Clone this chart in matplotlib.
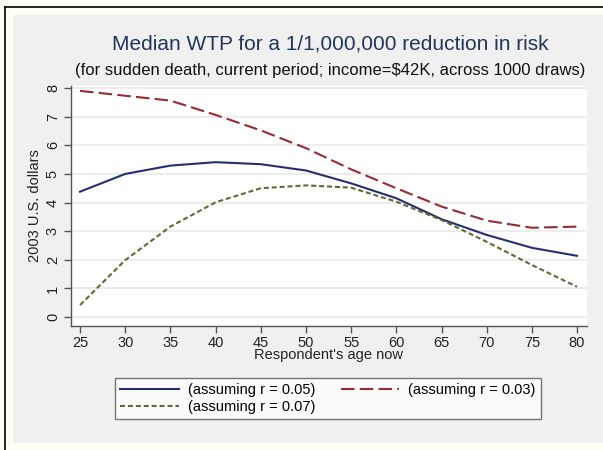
import matplotlib
matplotlib.use("Agg")
import matplotlib.pyplot as plt
from matplotlib.patches import Rectangle
from matplotlib.lines import Line2D

ages = [25, 30, 35, 40, 45, 50, 55, 60, 65, 70, 75, 80]
wtp_r05 = [4.38, 5.00, 5.29, 5.41, 5.34, 5.12, 4.67, 4.15, 3.42, 2.87, 2.42, 2.14]
wtp_r03 = [7.90, 7.73, 7.56, 7.06, 6.52, 5.90, 5.16, 4.50, 3.86, 3.37, 3.12, 3.16]
wtp_r07 = [0.42, 1.99, 3.16, 4.01, 4.50, 4.60, 4.52, 4.03, 3.39, 2.63, 1.82, 1.06]
xticks = [25, 30, 35, 40, 45, 50, 55, 60, 65, 70, 75, 80]
yticks = [0, 1, 2, 3, 4, 5, 6, 7, 8]
labels = ["(assuming r = 0.05)", "(assuming r = 0.03)", "(assuming r = 0.07)"]

plt.rcParams['font.family'] = ['Liberation Sans', 'DejaVu Sans']

W, H = 603, 450
fig = plt.figure(figsize=(W / 100, H / 100), dpi=100)
fig.patch.set_facecolor('#fffff6')

def fx(px):
    return px / W

def fy(py):
    return 1 - py / H

# grey panel
fig.patches.append(Rectangle((fx(13), fy(443)), fx(W - 13), fy(15) - fy(443),
                             transform=fig.transFigure, facecolor='#f0f0f0',
                             edgecolor='none', zorder=-10))
# black border (left and top)
fig.lines.append(Line2D([fx(4.5), fx(4.5)], [0, fy(6.5)], transform=fig.transFigure,
                        color='black', lw=1.2, zorder=-5))
fig.lines.append(Line2D([fx(4.5), 1], [fy(6.5), fy(6.5)], transform=fig.transFigure,
                        color='black', lw=1.2, zorder=-5))

ax = fig.add_axes([fx(71), fy(326), fx(587) - fx(71), fy(86) - fy(326)])
ax.set_zorder(1)
ax.set_facecolor('white')
ax.set_xlim(24.0, 81.1)
ax.set_ylim(-0.31, 8.07)

c_blue = '#262f6e'
c_red = '#962b36'
c_green = '#5f6b33'

l1, = ax.plot(ages, wtp_r05, color=c_blue, lw=1.5, solid_joinstyle='round')
l2, = ax.plot(ages, wtp_r03, color=c_red, lw=1.5, dashes=(6.5, 2.5))
l3, = ax.plot(ages, wtp_r07, color=c_green, lw=1.5, dashes=(2.4, 1.4))

ax.set_xticks(xticks)
ax.set_yticks(yticks)
ax.set_yticklabels([str(v) for v in yticks], rotation=90, va='center')
ax.grid(True, axis='y', color='#eaeaea', lw=1.2)
ax.set_axisbelow(True)
for s in ['top', 'right']:
    ax.spines[s].set_visible(False)
for s in ['left', 'bottom']:
    ax.spines[s].set_color('#555555')
    ax.spines[s].set_linewidth(1.0)
ax.tick_params(axis='both', colors='#555555', labelcolor='#222222', labelsize=10.5,
               length=5, width=1.0, direction='out')
ax.tick_params(axis='x', pad=2)
ax.tick_params(axis='y', pad=3)

ax.set_xlabel("Respondent's age now", fontsize=10.5, color='#222222', labelpad=-1)
ax.set_ylabel("2003 U.S. dollars", fontsize=10.5, color='#222222', labelpad=3)

fig.text(fx(330), fy(44), "Median WTP for a 1/1,000,000 reduction in risk",
         ha='center', va='center', fontsize=15, color='#22365a')
fig.text(fx(330), fy(70), "(for sudden death, current period; income=$42K, across 1000 draws)",
         ha='center', va='center', fontsize=12, color='#111111')

leg = fig.legend([l1, l3, l2], [labels[0], labels[2], labels[1]], ncol=2,
                 loc='center', bbox_to_anchor=(fx(328), fy(398.5)),
                 fontsize=10.5, frameon=True, fancybox=False, handlelength=4.0,
                 handletextpad=0.6, columnspacing=1.8, borderpad=0.35,
                 labelspacing=0.25)
leg.get_frame().set_edgecolor('#555555')
leg.get_frame().set_linewidth(1.0)
leg.get_frame().set_facecolor('white')

fig.savefig('out.png', dpi=100, facecolor=fig.get_facecolor())
